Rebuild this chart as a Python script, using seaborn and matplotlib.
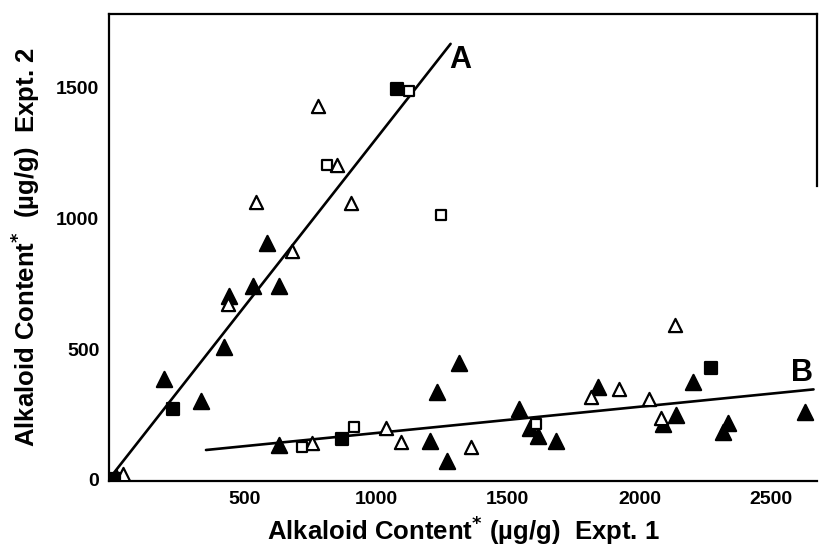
import numpy as np
import pandas as pd
import matplotlib
matplotlib.use("Agg")
import matplotlib.pyplot as plt
import seaborn as sns

# Alkaloid content, experiment 1 (x) vs experiment 2 (y), in ug/g
filled_tri_x = [15, 195, 338, 424, 443, 535, 585, 633, 632, 1204, 1230, 1268, 1316,
                1543, 1584, 1615, 1683, 1843, 2088, 2138, 2201, 2315, 2334, 2627]
filled_tri_y = [12, 385, 303, 510, 705, 742, 906, 742, 134, 149, 338, 74, 446,
                271, 198, 168, 150, 355, 213, 249, 376, 185, 219, 261]

open_tri_x = [40, 440, 545, 683, 781, 853, 905, 759, 1037, 1094, 1359, 1815, 1921,
              2036, 2080, 2135]
open_tri_y = [22, 673, 1063, 878, 1431, 1205, 1060, 140, 198, 144, 125, 316, 347,
              309, 238, 593]

filled_sq_x = [5, 228, 870, 1080, 2270]
filled_sq_y = [5, 270, 157, 1495, 430]

open_sq_x = [718, 815, 917, 1125, 1245, 1607]
open_sq_y = [127, 1205, 204, 1490, 1012, 213]

# Fitted relationships (slope, intercept, x extent)
fit_names = ["A", "B"]
fit_slope = [1.285, 0.1006]
fit_intercept = [20, 79]
fit_xmin = [0, 355]
fit_xmax = [1283, 2660]

x_ticks = [500, 1000, 1500, 2000, 2500]
y_ticks = [0, 500, 1000, 1500]

sns.set_style("white")
plt.rcParams["font.family"] = ["Liberation Sans", "DejaVu Sans"]
plt.rcParams["font.weight"] = "bold"
plt.rcParams["mathtext.default"] = "bf"
for key in ["text.color", "axes.labelcolor", "xtick.color", "ytick.color",
            "axes.edgecolor"]:
    plt.rcParams[key] = "black"

fig = plt.figure(figsize=(8.2, 5.46), dpi=100)
ax = fig.add_axes([0.1329, 0.119, 0.8634, 0.8554])

# regression lines
for name, m, b, x0, x1 in zip(fit_names, fit_slope, fit_intercept, fit_xmin, fit_xmax):
    xs = np.array([x0, x1], dtype=float)
    line_df = pd.DataFrame({"x": xs, "y": b + m * xs})
    sns.lineplot(data=line_df, x="x", y="y", ax=ax, color="black", linewidth=1.9,
                 zorder=2, legend=False)

groups = [
    (filled_tri_x, filled_tri_y, "^", "black", 120),
    (open_tri_x, open_tri_y, "^", "white", 90),
    (filled_sq_x, filled_sq_y, "s", "black", 75),
    (open_sq_x, open_sq_y, "s", "white", 60),
]
for gx, gy, mk, face, size in groups:
    df = pd.DataFrame({"x": gx, "y": gy})
    sns.scatterplot(data=df, x="x", y="y", ax=ax, marker=mk, color=face,
                    edgecolor="black", linewidth=1.6, s=size, zorder=3, legend=False)

# line labels
ax.text(1318, 1607, "A", fontsize=22, fontweight="bold", ha="center", va="center")
ax.text(2615, 411, "B", fontsize=22, fontweight="bold", ha="center", va="center")

ax.set_xlim(-13, 2673)
ax.set_ylim(-4, 1783)
ax.set_xticks(x_ticks)
ax.set_yticks(y_ticks)
ax.tick_params(direction="in", length=8, width=1.5, labelsize=14, pad=7,
               colors="black")
for lab in ax.get_xticklabels() + ax.get_yticklabels():
    lab.set_fontweight("bold")

for side in ["left", "bottom", "top", "right"]:
    ax.spines[side].set_visible(True)
    ax.spines[side].set_color("black")
    ax.spines[side].set_linewidth(1.6)
ax.spines["right"].set_bounds(1125, 1783)

ax.set_xlabel("Alkaloid Content$^{*}$ (\u00b5g/g)  Expt. 1", fontsize=18.5,
              fontweight="bold", labelpad=4)
ax.set_ylabel("Alkaloid Content$^{*}$  (\u00b5g/g)  Expt. 2", fontsize=18.5,
              fontweight="bold", labelpad=10)

fig.savefig("out.png", dpi=100)
